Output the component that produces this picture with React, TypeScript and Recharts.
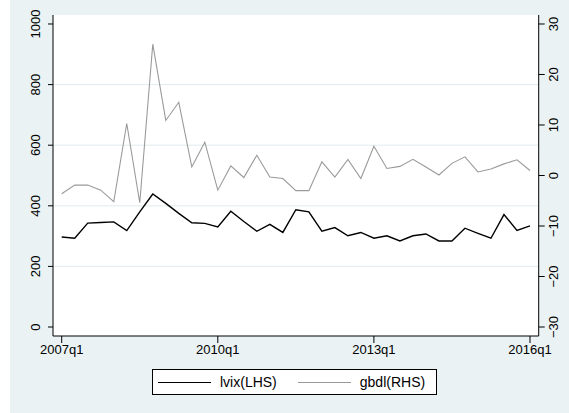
import { LineChart, Line, XAxis, YAxis, CartesianGrid } from "recharts";

// quarters since 2007q1
const quarters = Array.from({ length: 37 }, (_, i) => i);

const lvix = [
  297, 293, 343, 345, 347, 318, 380, 439, 408, 375, 344, 342, 330, 382, 348,
  316, 339, 312, 387, 380, 316, 328, 301, 312, 293, 301, 284, 301, 307, 284,
  284, 326, 309, 293, 371, 319, 334,
];

const gbdl = [
  -3.6, -1.9, -1.9, -2.9, -5.2, 10.3, -5.4, 26.0, 10.9, 14.5, 1.7, 6.6, -2.9,
  1.9, -0.4, 4.0, -0.3, -0.6, -3.0, -3.0, 2.7, -0.3, 3.2, -0.6, 5.8, 1.4, 1.8,
  3.2, 1.7, 0.1, 2.4, 3.7, 0.7, 1.3, 2.3, 3.1, 1.0,
];

const xTicks = [0, 12, 24, 36];
const leftTicks = [0, 200, 400, 600, 800, 1000];
const rightTicks = [-30, -20, -10, 0, 10, 20, 30];
const gridValues = [200, 400, 600, 800];

const data = quarters.map((q, i) => ({ q, lvix: lvix[i], gbdl: gbdl[i] }));

const BG = "#EAF2F3";
const FONT = "'Liberation Sans', Arial, sans-serif";

const fmtQuarter = (q: number) =>
  `${2007 + Math.floor(q / 4)}q${(q % 4) + 1}`;

const RotTick = ({ y, payload, cx }: any) => {
  const v = payload.value as number;
  const label = v < 0 ? `\u2212${Math.abs(v)}` : `${v}`;
  return (
    <text
      x={cx}
      y={y}
      transform={`rotate(-90, ${cx}, ${y})`}
      textAnchor="middle"
      dy="0.36em"
      fontSize={13}
      fontFamily={FONT}
      fill="#000"
    >
      {label}
    </text>
  );
};

const Key = ({ color, width, label }: any) => (
  <div style={{ display: "flex", alignItems: "center" }}>
    <div style={{ width: 53, height: 0, borderTop: `${width}px solid ${color}` }} />
    <span style={{ marginLeft: 9 }}>{label}</span>
  </div>
);

export default function App() {
  return (
    <div
      style={{
        position: "absolute",
        left: 10,
        top: 0,
        width: 559,
        height: 413,
        background: BG,
      }}
    >
      <LineChart
        width={559}
        height={413}
        data={data}
        margin={{ top: 15, right: 0, bottom: 0, left: 0 }}
      >
        <CartesianGrid
          fill="#fff"
          stroke="#E1EBEE"
          vertical={false}
          horizontalValues={gridValues}
        />
        <XAxis
          dataKey="q"
          type="number"
          domain={[-0.67, 36.67]}
          allowDataOverflow
          ticks={xTicks}
          tickFormatter={fmtQuarter}
          height={77}
          tickSize={7}
          tickMargin={2}
          stroke="#000"
          tick={{ fill: "#000", fontSize: 13, fontFamily: FONT }}
          tickLine={{ stroke: "#000" }}
        />
        <YAxis
          domain={[-29.7, 1029.7]}
          allowDataOverflow
          ticks={leftTicks}
          width={43}
          tickSize={5}
          stroke="#000"
          tickLine={{ stroke: "#000" }}
          tick={<RotTick cx={25} />}
        />
        <YAxis
          yAxisId="right"
          orientation="right"
          domain={[-31.78, 31.78]}
          allowDataOverflow
          ticks={rightTicks}
          width={30.3}
          tickSize={6}
          stroke="#000"
          tickLine={{ stroke: "#000" }}
          tick={<RotTick cx={543.3} />}
        />
        <Line
          dataKey="lvix"
          stroke="#000"
          strokeWidth={1.4}
          dot={false}
          isAnimationActive={false}
        />
        <Line
          yAxisId="right"
          dataKey="gbdl"
          stroke="#9a9a9a"
          strokeWidth={1.1}
          dot={false}
          isAnimationActive={false}
        />
      </LineChart>
      <div
        style={{
          position: "absolute",
          left: 142,
          top: 369,
          width: 285,
          height: 26,
          boxSizing: "border-box",
          border: "1px solid #000",
          background: "#fff",
          display: "flex",
          alignItems: "center",
          paddingLeft: 5,
          gap: 21,
          fontFamily: FONT,
          fontSize: 14,
          color: "#000",
        }}
      >
        <Key color="#000" width={1.4} label="lvix(LHS)" />
        <Key color="#9a9a9a" width={1.1} label="gbdl(RHS)" />
      </div>
    </div>
  );
}
